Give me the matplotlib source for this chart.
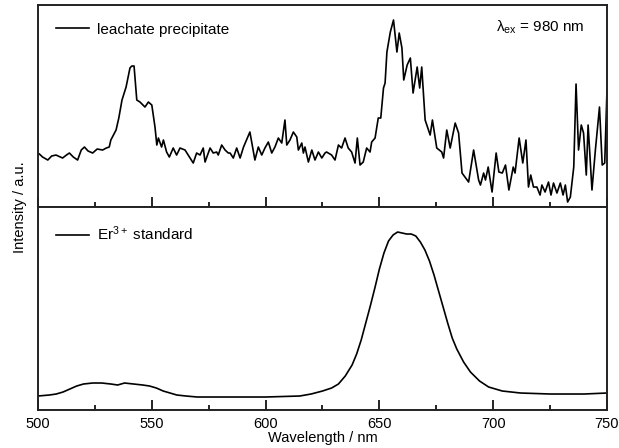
import matplotlib
matplotlib.use("Agg")
import matplotlib.pyplot as plt
from matplotlib.ticker import MultipleLocator

plt.rcParams['font.family'] = ['Liberation Sans', 'DejaVu Sans']
plt.rcParams['mathtext.fontset'] = 'custom'
plt.rcParams['mathtext.rm'] = 'Liberation Sans'
plt.rcParams['mathtext.it'] = 'Liberation Sans:italic'

# leachate precipitate spectrum (noisy), arbitrary units
wl_leach = [500.6, 502, 504.3, 506, 507.9, 510.8, 512.5, 513.8, 515.5, 517.4,
            519, 520.4, 522, 524, 526, 528.4, 530, 531.3, 532, 534.3,
            535.5, 536.9, 538.7, 540.4, 541.2, 542.2, 543.4, 544.8, 547, 548.5,
            550, 551.4, 552.2, 552.9, 554.3, 555.1, 556.5, 557.7, 559.4, 560.9,
            562.4, 564.6, 566, 568.2, 569.7, 571.2, 572.6, 573.4, 575.6, 577,
            578.5, 579.2, 580.7, 582.2, 583.6, 584.4, 585.8, 587.3, 588.8, 590.3,
            593.1, 595.3, 596.8, 598.3, 599.7, 601.2, 602.7, 604.1, 605.6, 607.1,
            608.5, 609.3, 610.7, 612.2, 613.7, 614.4, 615.9, 616.6, 617.3, 618.8,
            620.3, 621.7, 623.2, 624.7, 626.1, 626.8, 629, 630.5, 632, 633.4,
            634.9, 636.3, 637.8, 639.3, 640.3, 641.5, 642.9, 644.4, 645.9, 646.6,
            648.1, 649.5, 650.6, 651.8, 652.5, 653.3, 654.8, 656.2, 657.7, 658.7,
            659.9, 660.7, 662.2, 663.6, 664.8, 666.6, 667.7, 668.6, 670.1, 672.3,
            673.3, 675.2, 677.4, 678.2, 679.6, 681.1, 683.3, 684.8, 686.3, 689.2,
            691.4, 693.6, 694.4, 695.8, 696.6, 697.8, 699.5, 701.3, 702.5, 704,
            705.4, 706.9, 708.8, 709.6, 711.4, 713, 714.4, 715.5, 716.5, 717.7,
            719.2, 720.6, 721.4, 722.8, 724.3, 725.4, 726.5, 728, 729.5, 730.7,
            731.7, 732.7, 733.9, 735.4, 736.4, 737.5, 738.7, 739.7, 740.9, 741.7,
            743.4, 744.9, 746.7, 747.9, 749, 750]
int_leach = [53, 50, 47, 51, 52, 49, 52, 54, 50, 47,
             57, 60, 56, 54, 58, 57, 59, 60, 67, 77,
             89, 107, 120, 139, 141, 141, 107, 105, 100, 105,
             102, 80, 62, 69, 60, 67, 55, 50, 59, 52,
             59, 57, 52, 44, 54, 52, 59, 45, 59, 54,
             55, 52, 62, 57, 54, 54, 49, 59, 49, 60,
             75, 47, 60, 52, 59, 65, 54, 60, 69, 64,
             87, 62, 67, 75, 70, 57, 64, 54, 60, 45,
             57, 47, 55, 49, 54, 55, 52, 47, 62, 59,
             69, 59, 55, 44, 69, 42, 45, 59, 55, 65,
             69, 89, 89, 119, 124, 155, 175, 187, 155, 174,
             159, 127, 142, 149, 114, 140, 119, 140, 87, 72,
             87, 59, 55, 49, 77, 59, 84, 74, 34, 25,
             57, 27, 22, 34, 27, 40, 15, 54, 35, 34,
             42, 17, 40, 34, 69, 44, 67, 20, 32, 20,
             20, 12, 22, 15, 25, 12, 24, 14, 24, 12,
             22, 5, 10, 40, 123, 57, 82, 74, 32, 82,
             17, 57, 100, 42, 44, 117]

# Er3+ standard spectrum (smooth), arbitrary units
wl_std = [500, 505, 508, 511, 514, 517, 520, 524, 528, 532,
          535, 538, 542, 546, 549, 552, 555, 558, 561, 565,
          570, 580, 600, 615, 620, 625, 629, 632, 635, 638,
          640, 642, 644, 646, 648, 650, 652, 654, 656, 658,
          660, 662, 664, 666, 668, 670, 672, 674, 676, 678,
          680, 682, 684, 687, 690, 694, 698, 704, 712, 725,
          740, 750]
int_std = [14, 15, 16, 18, 21, 24, 26, 27, 27, 26,
           25, 27, 26, 25, 24, 22, 19, 17, 15, 14,
           13, 13, 13, 14, 16, 19, 22, 26, 34, 45,
           56, 70, 87, 104, 122, 141, 157, 169, 175, 178,
           177, 176, 176, 174, 168, 160, 149, 135, 119, 103,
           87, 72, 61, 48, 38, 29, 23, 19, 17, 16,
           16, 17]

fig = plt.figure(figsize=(6.19, 4.48), dpi=100)
ax_top = fig.add_axes([0.0614, 0.5379, 0.9192, 0.4509])
ax_bot = fig.add_axes([0.0614, 0.0848, 0.9192, 0.4531])

ax_top.plot(wl_leach, int_leach, color='black', lw=1.2, label='leachate precipitate')
ax_bot.plot(wl_std, int_std, color='black', lw=1.2, label='Er$^{\\mathregular{3+}}$ standard')

ax_top.set_ylim(0, 202)
ax_bot.set_ylim(0, 203)

for ax in (ax_top, ax_bot):
    ax.set_xlim(500, 750)
    ax.xaxis.set_major_locator(MultipleLocator(50))
    ax.xaxis.set_minor_locator(MultipleLocator(25))
    ax.set_yticks([])
    ax.tick_params(axis='x', which='major', direction='in', length=7, width=1.2,
                   labelsize=10.5, pad=5)
    ax.tick_params(axis='x', which='minor', direction='in', length=3.5, width=1.2)
    for sp in ax.spines.values():
        sp.set_linewidth(1.4)
        sp.set_color('#222222')
    ax.legend(loc='upper left', frameon=False, fontsize=11, handlelength=2.2,
              handletextpad=0.5, borderaxespad=0.75)

ax_top.tick_params(axis='x', labelbottom=False)

ax_top.text(0.961, 0.89, 'λ$_{\\mathregular{ex}}$ = 980 nm', transform=ax_top.transAxes,
            ha='right', va='center', fontsize=11)

ax_bot.set_xlabel('Wavelength / nm', fontsize=10.5, labelpad=0)
fig.text(0.032, 0.5379, 'Intensity / a.u.', rotation=90, ha='center', va='center',
         fontsize=10.5)

fig.savefig('out.png', dpi=100)
